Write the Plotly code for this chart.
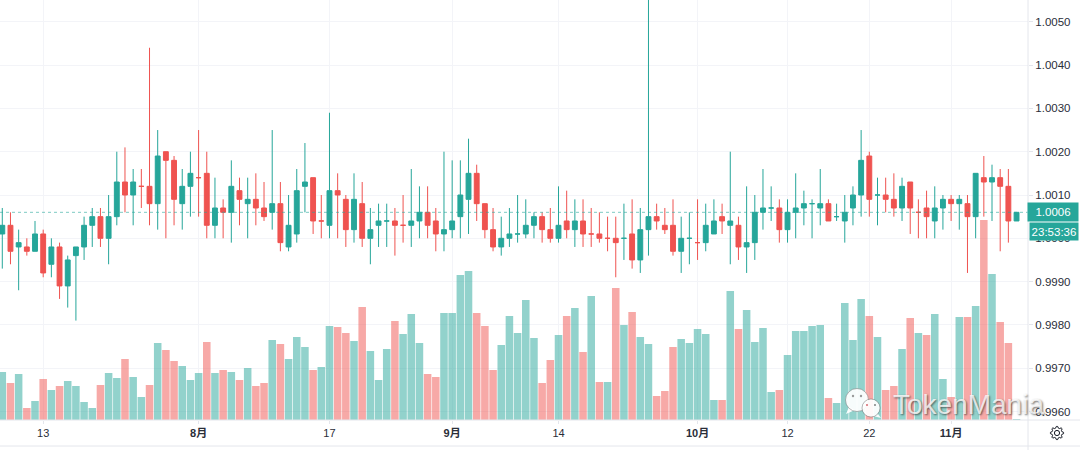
"""Daily candlestick chart with volume, TradingView look."""

import math

import plotly.graph_objects as go

UP = "#26a69a"
DOWN = "#ef5350"
GRID = "#f3f4f8"
BORDER = "#e4e6ec"
FONT = "Liberation Sans, Noto Sans CJK SC, sans-serif"

opens = [
    1.0001, 1.0003, 0.9998, 0.9998, 0.9997, 1.0001, 0.9994, 0.9998, 0.9989, 0.9996,
    0.9998, 1.0003, 1.0005, 1.0000, 1.0005, 1.0013, 1.0010, 1.0012, 1.0012, 1.0008,
    1.0020, 1.0018, 1.0008, 1.0012, 1.0014, 1.0015, 1.0003, 1.0007, 1.0006, 1.0011,
    1.0008, 1.0009, 1.0007, 1.0006, 1.0008, 0.9998, 1.0001, 1.0012, 1.0014, 1.0004,
    1.0003, 1.0011, 1.0009, 1.0002, 1.0008, 1.0000, 1.0003, 1.0004, 1.0004, 1.0003,
    1.0003, 1.0004, 1.0006, 1.0004, 1.0001, 1.0002, 1.0005, 1.0009, 1.0015, 1.0008,
    1.0002, 0.9998, 1.0000, 1.0001, 1.0001, 1.0003, 1.0005, 1.0002, 1.0000, 1.0004,
    1.0002, 1.0004, 1.0001, 1.0001, 1.0000, 1.0000, 1.0000, 1.0001, 0.9995, 1.0002,
    1.0005, 1.0003, 1.0003, 0.9997, 1.0000, 0.9999, 0.9999, 1.0001, 1.0005, 1.0003,
    1.0003, 0.9998, 0.9999, 1.0006, 1.0007, 1.0007, 1.0002, 1.0006, 1.0007, 1.0008,
    1.0007, 1.0008, 1.0005, 1.0004, 1.0007, 1.0010, 1.0019, 1.0010, 1.0010, 1.0009,
    1.0007, 1.0013, 1.0006, 1.0007, 1.0004, 1.0007, 1.0009, 1.0008, 1.0008, 1.0005,
    1.0014, 1.0013, 1.0014, 1.0012, 1.0004,
]
closes = [
    1.0003, 0.9997, 0.9999, 0.9997, 1.0001, 0.9992, 0.9998, 0.9989, 0.9995, 0.9998,
    1.0003, 1.0005, 1.0000, 1.0005, 1.0013, 1.0010, 1.0013, 1.0012, 1.0008, 1.0019,
    1.0018, 1.0009, 1.0012, 1.0015, 1.0014, 1.0003, 1.0007, 1.0006, 1.0012, 1.0009,
    1.0009, 1.0007, 1.0005, 1.0008, 0.9999, 1.0003, 1.0011, 1.0013, 1.0004, 1.0004,
    1.0011, 1.0010, 1.0002, 1.0009, 1.0000, 1.0002, 1.0004, 1.0004, 1.0003, 1.0003,
    1.0004, 1.0006, 1.0003, 1.0001, 1.0002, 1.0004, 1.0010, 1.0015, 1.0008, 1.0002,
    0.9998, 1.0000, 1.0001, 1.0001, 1.0003, 1.0005, 1.0002, 1.0000, 1.0003, 1.0002,
    1.0004, 1.0001, 1.0001, 1.0000, 1.0000, 0.9999, 1.0000, 0.9995, 1.0002, 1.0005,
    1.0004, 1.0002, 0.9997, 1.0000, 1.0000, 0.9999, 1.0003, 1.0004, 1.0004, 1.0004,
    0.9998, 0.9999, 1.0006, 1.0007, 1.0007, 1.0002, 1.0006, 1.0007, 1.0008, 1.0008,
    1.0008, 1.0004, 1.0005, 1.0006, 1.0010, 1.0018, 1.0009, 1.0010, 1.0009, 1.0007,
    1.0012, 1.0007, 1.0006, 1.0005, 1.0007, 1.0009, 1.0008, 1.0009, 1.0005, 1.0015,
    1.0013, 1.0014, 1.0012, 1.0004, 1.0006,
]
highs = [
    1.0007, 1.0006, 1.0002, 1.0000, 1.0004, 1.0002, 1.0000, 0.9999, 0.9996, 0.9998,
    1.0005, 1.0007, 1.0007, 1.0010, 1.0020, 1.0021, 1.0016, 1.0016, 1.0044, 1.0025,
    1.0020, 1.0019, 1.0016, 1.0020, 1.0025, 1.0020, 1.0014, 1.0009, 1.0018, 1.0014,
    1.0014, 1.0015, 1.0013, 1.0025, 1.0013, 1.0010, 1.0016, 1.0022, 1.0014, 1.0010,
    1.0029, 1.0015, 1.0010, 1.0015, 1.0013, 1.0007, 1.0008, 1.0008, 1.0007, 1.0010,
    1.0016, 1.0012, 1.0012, 1.0007, 1.0020, 1.0018, 1.0018, 1.0023, 1.0017, 1.0008,
    1.0007, 1.0005, 1.0007, 1.0010, 1.0009, 1.0006, 1.0006, 1.0007, 1.0012, 1.0011,
    1.0009, 1.0009, 1.0007, 1.0006, 1.0005, 1.0005, 1.0008, 1.0009, 1.0007, 1.0056,
    1.0008, 1.0007, 1.0009, 1.0005, 1.0006, 1.0009, 1.0008, 1.0009, 1.0008, 1.0020,
    1.0005, 1.0012, 1.0010, 1.0016, 1.0012, 1.0009, 1.0009, 1.0015, 1.0011, 1.0009,
    1.0016, 1.0009, 1.0008, 1.0010, 1.0012, 1.0025, 1.0020, 1.0014, 1.0014, 1.0015,
    1.0014, 1.0013, 1.0009, 1.0011, 1.0012, 1.0010, 1.0010, 1.0010, 1.0010, 1.0015,
    1.0019, 1.0017, 1.0016, 1.0016, 1.0006,
]
lows = [
    0.9993, 0.9994, 0.9988, 0.9996, 0.9997, 0.9991, 0.9991, 0.9986, 0.9984, 0.9981,
    0.9995, 0.9998, 0.9998, 0.9994, 1.0003, 1.0006, 1.0003, 1.0007, 1.0003, 1.0002,
    1.0000, 1.0003, 1.0002, 1.0005, 1.0005, 1.0000, 1.0000, 1.0000, 0.9999, 1.0003,
    1.0000, 1.0003, 1.0004, 1.0002, 0.9997, 0.9997, 0.9999, 1.0006, 1.0001, 1.0000,
    1.0000, 1.0000, 0.9998, 0.9999, 0.9998, 0.9994, 0.9998, 0.9998, 0.9996, 0.9999,
    0.9998, 1.0000, 1.0000, 0.9997, 0.9997, 1.0000, 1.0000, 1.0001, 1.0004, 1.0000,
    0.9997, 0.9996, 0.9998, 0.9999, 1.0000, 1.0000, 0.9999, 0.9999, 0.9999, 1.0000,
    0.9998, 0.9998, 0.9998, 0.9999, 0.9997, 0.9991, 0.9995, 0.9993, 0.9992, 0.9996,
    1.0002, 1.0001, 0.9996, 0.9992, 0.9994, 0.9995, 0.9997, 1.0001, 1.0001, 0.9994,
    0.9995, 0.9992, 0.9995, 1.0002, 1.0004, 0.9999, 0.9999, 1.0000, 1.0003, 1.0000,
    1.0003, 1.0004, 1.0004, 0.9999, 1.0003, 1.0005, 1.0005, 1.0003, 1.0006, 1.0005,
    1.0004, 1.0001, 1.0000, 1.0000, 1.0000, 1.0002, 1.0004, 1.0002, 0.9992, 1.0000,
    1.0005, 1.0004, 0.9997, 0.9999, 1.0004,
]
volumes = [
    48, 37, 46, 12, 19, 41, 30, 34, 39, 34, 18, 12, 35, 47, 42, 61, 43, 23, 35, 77,
    70, 59, 54, 40, 47, 78, 47, 50, 48, 40, 52, 34, 37, 80, 76, 61, 83, 73, 50, 53,
    94, 93, 87, 79, 113, 69, 40, 71, 99, 86, 106, 77, 46, 43, 107, 107, 145, 149, 107, 94,
    50, 75, 104, 87, 120, 82, 37, 60, 85, 104, 112, 68, 124, 38, 38, 132, 95, 108, 83, 76,
    24, 29, 73, 81, 77, 91, 86, 20, 20, 129, 91, 110, 78, 92, 28, 30, 65, 89, 89, 94,
    95, 22, 17, 117, 80, 121, 104, 83, 30, 34, 71, 102, 87, 85, 106, 41, 23, 103, 103, 114,
    200, 146, 98, 77, 1,
]
tick_index = [5, 24, 40, 55, 68, 85, 96, 106, 116]
tick_labels = ["13", "<b>8月</b>", "17", "<b>9月</b>", "14", "<b>10月</b>", "12", "22", "<b>11月</b>"]
price_ticks = [0.9960, 0.9970, 0.9980, 0.9990, 1.0000, 1.0010, 1.0020, 1.0030, 1.0040, 1.0050]
countdown = "23:53:36"

bars = list(range(len(closes)))
vol_colors = [
    "rgba(239,83,80,0.5)" if c < o else "rgba(38,166,154,0.5)"
    for o, c in zip(opens, closes)
]

# plot area in page pixels
PLOT_W, PLOT_H = 1028, 420


def px(x):
    return x / PLOT_W


def py(y):
    return 1 - y / PLOT_H


def circle(cx, cy, r, **kw):
    return dict(
        type="circle", xref="paper", yref="paper",
        x0=px(cx - r), x1=px(cx + r), y0=py(cy + r), y1=py(cy - r), **kw
    )


def polygon(points, **kw):
    path = "M " + " L ".join(f"{px(x):.5f} {py(y):.5f}" for x, y in points) + " Z"
    return dict(type="path", xref="paper", yref="paper", path=path, **kw)


def gear_points(cx, cy, outer, inner, teeth=8):
    pts = []
    for k in range(teeth * 4):
        a = 2 * math.pi * (k - 0.5) / (teeth * 4)
        r = outer if k % 4 in (0, 1) else inner
        pts.append((cx + r * math.cos(a), cy + r * math.sin(a)))
    return pts


fig = go.Figure()

fig.add_trace(go.Bar(
    x=bars,
    y=volumes,
    marker=dict(color=vol_colors, line=dict(width=0)),
    yaxis="y",
    hoverinfo="skip",
))
fig.add_trace(go.Candlestick(
    x=bars,
    open=opens,
    high=highs,
    low=lows,
    close=closes,
    yaxis="y2",
    increasing=dict(line=dict(color=UP, width=1), fillcolor=UP),
    decreasing=dict(line=dict(color=DOWN, width=1), fillcolor=DOWN),
    whiskerwidth=0,
))

# chart frame, price line, watermark logo and settings icon
shadow = "rgba(90,90,90,0.55)"
logo_fill = "rgba(255,255,255,0.93)"
shapes = [
    dict(type="line", xref="paper", yref="y2", x0=0, x1=1,
         y0=closes[-1], y1=closes[-1],
         line=dict(color="rgba(38,166,154,0.6)", width=1, dash="dot")),
    dict(type="line", xref="paper", yref="paper", x0=1, x1=1, y0=py(450), y1=1,
         line=dict(color=BORDER, width=1)),
    dict(type="line", xref="paper", yref="paper", x0=0, x1=px(1080), y0=py(420), y1=py(420),
         line=dict(color=BORDER, width=1)),
    dict(type="line", xref="paper", yref="paper", x0=0, x1=px(1080), y0=py(446), y1=py(446),
         line=dict(color=BORDER, width=1)),
    polygon([(849, 407), (846, 414), (855, 410)], fillcolor=logo_fill, line=dict(width=0)),
    circle(857, 400, 11.5, fillcolor=logo_fill, line=dict(color=shadow, width=0.8)),
    circle(853, 396, 1.2, fillcolor="#9a9a9a", line=dict(width=0)),
    circle(861, 396, 1.2, fillcolor="#9a9a9a", line=dict(width=0)),
    polygon([(878, 414), (881, 418), (873, 416)], fillcolor=logo_fill, line=dict(width=0)),
    circle(871, 408, 9, fillcolor=logo_fill, line=dict(color=shadow, width=0.8)),
    circle(867, 405, 1.1, fillcolor="#d9727a", line=dict(width=0)),
    circle(875, 405, 1.1, fillcolor="#8a8a8a", line=dict(width=0)),
    polygon(gear_points(1057, 433, 6.6, 5), fillcolor="white",
            line=dict(color="#131722", width=1)),
    circle(1057, 433, 2.6, fillcolor="white", line=dict(color="#131722", width=1)),
]

annotations = [
    dict(text=f"{closes[-1]:.4f}", xref="paper", yref="y2", x=px(1053), y=closes[-1],
         xanchor="center", yanchor="middle",
         showarrow=False, font=dict(family=FONT, size=11.5, color="white"),
         bgcolor=UP, width=50, height=18, borderpad=0),
    dict(text=countdown, xref="paper", yref="paper", x=px(1054), y=py(231),
         xanchor="center", yanchor="middle",
         showarrow=False, font=dict(family=FONT, size=11.5, color="white"),
         bgcolor=UP, width=48, height=17, borderpad=0),
    dict(text="TokenMania", xref="paper", yref="paper", x=px(968), y=py(404),
         xanchor="center", yanchor="middle",
         showarrow=False,
         font=dict(family=FONT, size=28, color="rgba(255,255,255,0.78)",
                   shadow="1px 1px 2px rgba(40,40,40,0.85)")),
]

fig.update_layout(
    width=1080,
    height=450,
    margin=dict(l=0, r=52, t=0, b=30),
    paper_bgcolor="white",
    plot_bgcolor="white",
    showlegend=False,
    bargap=0.08,
    boxgap=0.15,
    shapes=shapes,
    annotations=annotations,
    xaxis=dict(
        range=[-0.28, 125.4],
        tickvals=tick_index,
        ticktext=tick_labels,
        tickfont=dict(family=FONT, size=11, color="#2a2e39"),
        ticks="outside",
        ticklen=3,
        tickcolor=BORDER,
        showgrid=True,
        gridcolor=GRID,
        zeroline=False,
        showline=False,
        rangeslider=dict(visible=False),
    ),
    yaxis=dict(
        range=[0, 420],
        visible=False,
        fixedrange=True,
    ),
    yaxis2=dict(
        overlaying="y",
        side="right",
        anchor="x",
        range=[0.995804, 1.005503],
        tickvals=price_ticks,
        tickformat=".4f",
        tickfont=dict(family=FONT, size=11.5, color="#2a2e39"),
        ticks="outside",
        ticklen=4,
        tickcolor=BORDER,
        showgrid=True,
        gridcolor=GRID,
        zeroline=False,
        showline=False,
    ),
)

# default page margin would push the chart off the window edges
fig.write_html(
    "out.html",
    config=dict(displayModeBar=False),
    post_script="document.body.style.margin = '0';",
)
